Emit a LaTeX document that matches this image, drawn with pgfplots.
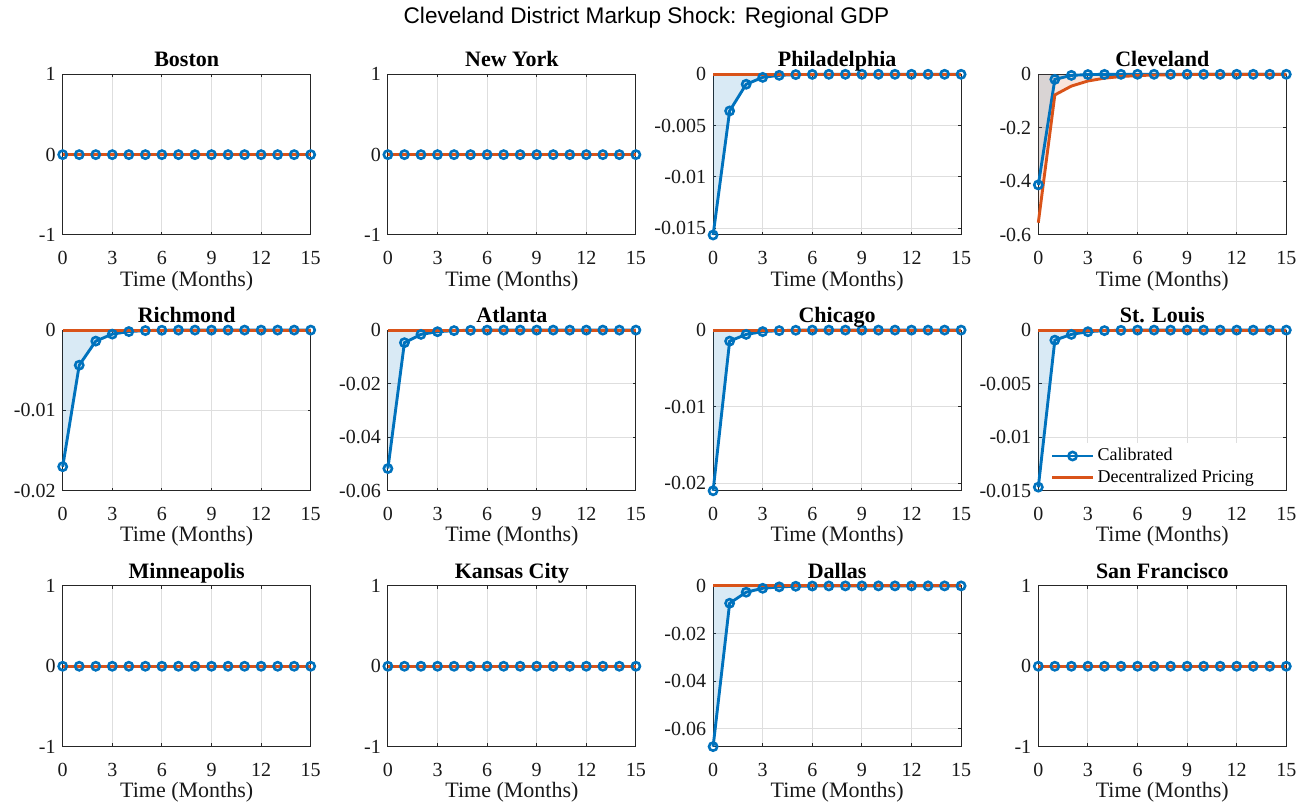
\documentclass[border=0pt]{standalone}
\usepackage{fontspec}
\setmainfont{Liberation Serif}
\newfontfamily\sanstitle{Liberation Sans}
\usepackage{pgfplots}
\usepackage{pgfplotstable}
\pgfplotsset{compat=1.18}
\definecolor{mblue}{rgb}{0,0.447,0.741}
\definecolor{morange}{rgb}{0.85,0.325,0.098}
\definecolor{axc}{rgb}{0.15,0.15,0.15}
\definecolor{gridc}{rgb}{0.87,0.87,0.87}

\pgfplotstableread{
t cal dec
0 0 0
1 0 0
2 0 0
3 0 0
4 0 0
5 0 0
6 0 0
7 0 0
8 0 0
9 0 0
10 0 0
11 0 0
12 0 0
13 0 0
14 0 0
15 0 0
}\tZero

\pgfplotstableread{
t cal dec
0 -0.01565 0
1 -0.00357 0
2 -0.00097 0
3 -0.00030 0
4 -0.00010 0
5 -0.00003 0
6 -0.00001 0
7 0 0
8 0 0
9 0 0
10 0 0
11 0 0
12 0 0
13 0 0
14 0 0
15 0 0
}\tPhil

\pgfplotstableread{
t cal dec
0 -0.413 -0.554
1 -0.019 -0.077
2 -0.004 -0.044
3 -0.001 -0.025
4 -0.0003 -0.0145
5 -0.0001 -0.0083
6 0 -0.0048
7 0 -0.0028
8 0 -0.0016
9 0 -0.0009
10 0 -0.0005
11 0 -0.0003
12 0 -0.00017
13 0 -0.0001
14 0 -0.00006
15 0 -0.00003
}\tClev

\pgfplotstableread{
t cal dec
0 -0.0170 0
1 -0.00437 0
2 -0.00137 0
3 -0.0005 0
4 -0.00018 0
5 -0.00006 0
6 -0.00002 0
7 0 0
8 0 0
9 0 0
10 0 0
11 0 0
12 0 0
13 0 0
14 0 0
15 0 0
}\tRich

\pgfplotstableread{
t cal dec
0 -0.0517 0
1 -0.0047 0
2 -0.0016 0
3 -0.0006 0
4 -0.0002 0
5 -0.00007 0
6 -0.00002 0
7 0 0
8 0 0
9 0 0
10 0 0
11 0 0
12 0 0
13 0 0
14 0 0
15 0 0
}\tAtl

\pgfplotstableread{
t cal dec
0 -0.0210 0
1 -0.00144 0
2 -0.00056 0
3 -0.0002 0
4 -0.00007 0
5 -0.00002 0
6 0 0
7 0 0
8 0 0
9 0 0
10 0 0
11 0 0
12 0 0
13 0 0
14 0 0
15 0 0
}\tChi

\pgfplotstableread{
t cal dec
0 -0.01466 0
1 -0.00094 0
2 -0.0004 0
3 -0.00015 0
4 -0.00005 0
5 -0.00002 0
6 0 0
7 0 0
8 0 0
9 0 0
10 0 0
11 0 0
12 0 0
13 0 0
14 0 0
15 0 0
}\tStl

\pgfplotstableread{
t cal dec
0 -0.0674 0
1 -0.00727 0
2 -0.00265 0
3 -0.001 0
4 -0.0004 0
5 -0.00015 0
6 -0.00005 0
7 -0.00002 0
8 0 0
9 0 0
10 0 0
11 0 0
12 0 0
13 0 0
14 0 0
15 0 0
}\tDal

\pgfplotsset{
  panel/.style={
    scale only axis, width=124pt, height=80.35pt,
    xmin=0, xmax=15, xtick={0,3,6,9,12,15}, xticklabels={0,3,6,9,12,15},
    scaled ticks=false,
    grid=major, grid style={line width=0.5pt, color=gridc},
    axis line style={line width=0.5pt, color=axc},
    tick style={line width=0.5pt, color=axc},
    major tick length=1.6pt, tick align=inside,
    tick label style={font=\fontsize{10}{12}\selectfont, color=black!90},
    xticklabel style={anchor=base, yshift=-15pt},
    xlabel={Time (Months)},
    xlabel style={at={(axis description cs:0.5,0)}, anchor=base, yshift=-25.6pt, font=\fontsize{11}{13}\selectfont, color=black!90},
    title style={at={(axis description cs:0.5,1)}, anchor=base, yshift=-2.2pt, font=\bfseries\fontsize{11}{13}\selectfont},
    clip=false,
    anchor=north west,
  },
  zeroy/.style={ymin=-1, ymax=1, ytick={-1,0,1}, yticklabels={-1,0,1}},
  cal/.style={color=mblue, line width=1.45pt, mark=o, mark size=2.05pt, mark options={line width=1.3pt}},
  dec/.style={color=morange, line width=1.45pt},
  fblue/.style={draw=none, fill=mblue, fill opacity=0.15, forget plot},
  forange/.style={draw=none, fill=morange, fill opacity=0.15, forget plot},
}

\newcommand{\panelplots}[1]{%
  \addplot[fblue] table[x=t,y=cal]{#1} \closedcycle;
  \addplot[forange] table[x=t,y=dec]{#1} \closedcycle;
  \addplot[cal] table[x=t,y=cal]{#1};
  \addplot[dec] table[x=t,y=dec]{#1};
}

\begin{document}
\begin{tikzpicture}
\useasboundingbox (0,0) rectangle (653.5pt,-406pt);
\node[anchor=base, font=\sanstitle\fontsize{11.3}{13}\selectfont] at (323.25pt,-12pt) {Cleveland District Markup Shock: Regional GDP};

% Row 1
\begin{axis}[panel, at={(31.35pt,-37.15pt)}, title={Boston}, zeroy]
\panelplots{\tZero}
\end{axis}
\begin{axis}[panel, at={(193.95pt,-37.15pt)}, title={New York}, zeroy]
\panelplots{\tZero}
\end{axis}
\begin{axis}[panel, at={(356.55pt,-37.15pt)}, title={Philadelphia}, ymin=-0.01565, ymax=0, ytick={-0.015,-0.01,-0.005,0}, yticklabels={-0.015,-0.01,-0.005,0}]
\panelplots{\tPhil}
\end{axis}
\begin{axis}[panel, at={(519.15pt,-37.15pt)}, title={Cleveland}, ymin=-0.6, ymax=0, ytick={-0.6,-0.4,-0.2,0}, yticklabels={-0.6,-0.4,-0.2,0}]
\panelplots{\tClev}
\end{axis}

% Row 2
\begin{axis}[panel, at={(31.35pt,-165.05pt)}, title={Richmond}, ymin=-0.02, ymax=0, ytick={-0.02,-0.01,0}, yticklabels={-0.02,-0.01,0}]
\panelplots{\tRich}
\end{axis}
\begin{axis}[panel, at={(193.95pt,-165.05pt)}, title={Atlanta}, ymin=-0.06, ymax=0, ytick={-0.06,-0.04,-0.02,0}, yticklabels={-0.06,-0.04,-0.02,0}]
\panelplots{\tAtl}
\end{axis}
\begin{axis}[panel, at={(356.55pt,-165.05pt)}, title={Chicago}, ymin=-0.0210, ymax=0, ytick={-0.02,-0.01,0}, yticklabels={-0.02,-0.01,0}]
\panelplots{\tChi}
\end{axis}
\begin{axis}[panel, at={(519.15pt,-165.05pt)}, title={St. Louis}, ymin=-0.015, ymax=0, ytick={-0.015,-0.01,-0.005,0}, yticklabels={-0.015,-0.01,-0.005,0},
  legend style={at={(axis description cs:0.04,0.001)}, anchor=south west, draw=none, fill=white, font=\fontsize{9}{11}\selectfont, inner sep=1pt, row sep=0pt, nodes={inner sep=1.5pt}, cells={anchor=west}},
  legend image code/.code={\draw[mark repeat=2,mark phase=2,#1] plot coordinates {(0pt,0pt)(10.25pt,0pt)(20.5pt,0pt)};}]
\panelplots{\tStl}
\addlegendentry{Calibrated}
\addlegendentry{Decentralized Pricing}
\end{axis}

% Row 3
\begin{axis}[panel, at={(31.35pt,-292.95pt)}, title={Minneapolis}, zeroy]
\panelplots{\tZero}
\end{axis}
\begin{axis}[panel, at={(193.95pt,-292.95pt)}, title={Kansas City}, zeroy]
\panelplots{\tZero}
\end{axis}
\begin{axis}[panel, at={(356.55pt,-292.95pt)}, title={Dallas}, ymin=-0.0674, ymax=0, ytick={-0.06,-0.04,-0.02,0}, yticklabels={-0.06,-0.04,-0.02,0}]
\panelplots{\tDal}
\end{axis}
\begin{axis}[panel, at={(519.15pt,-292.95pt)}, title={San Francisco}, zeroy]
\panelplots{\tZero}
\end{axis}
\end{tikzpicture}
\end{document}
